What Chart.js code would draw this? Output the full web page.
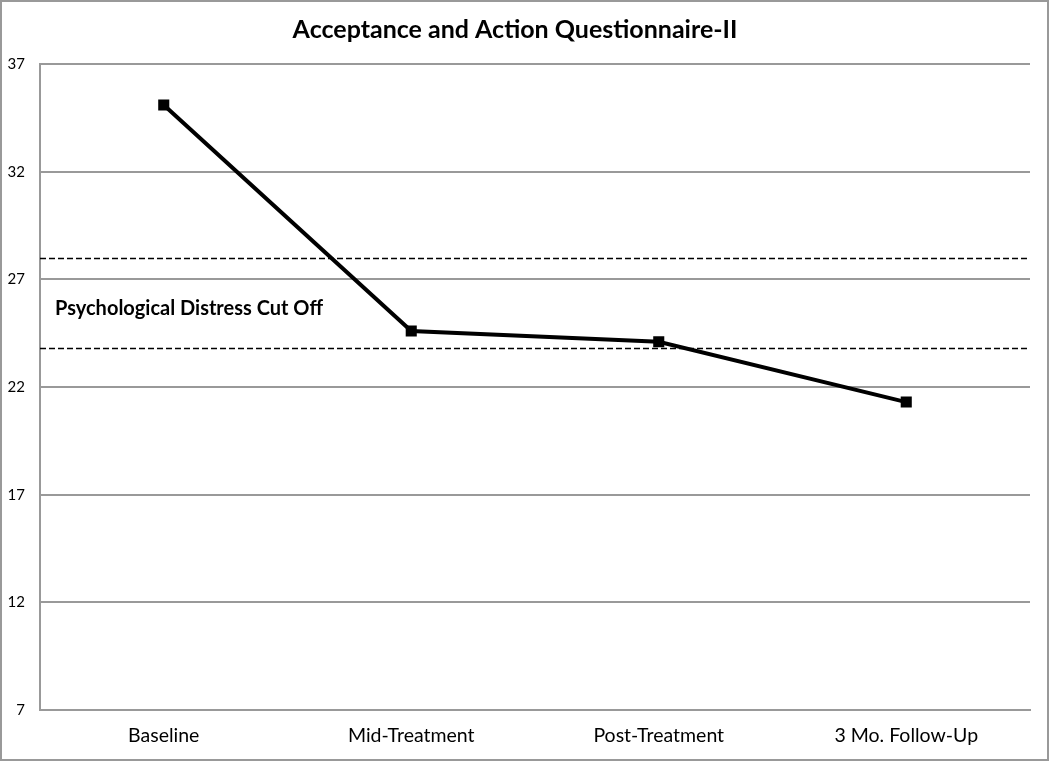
<!DOCTYPE html>
<html>
<head>
<meta charset="utf-8">
<script src="https://cdn.jsdelivr.net/npm/chart.js@4/dist/chart.umd.min.js"></script>
<style>
html,body{margin:0;padding:0;background:#fff;}
#wrap{width:1050px;height:762px;position:relative;}
</style>
</head>
<body>
<div id="wrap"><canvas id="c" width="1050" height="762"></canvas></div>
<script>
const categories = ["Baseline", "Mid-Treatment", "Post-Treatment", "3 Mo. Follow-Up"];
const aaqValues = [35.1, 24.6, 24.1, 21.3];
const cutoffLines = [28, 23.8];
const cutoffLabel = "Psychological Distress Cut Off";
const yMin = 7, yMax = 37, yStep = 5;
const titleText = "Acceptance and Action Questionnaire-II";
const FONT = "Lato, 'Open Sans', sans-serif";

const overlay = {
  id: 'overlay',
  afterDatasetsDraw(chart) {
    const {ctx, chartArea: a, scales: {y}} = chart;
    ctx.save();
    ctx.strokeStyle = '#000';
    ctx.lineWidth = 1.6;
    ctx.setLineDash([6, 3]);
    cutoffLines.forEach(v => {
      const py = Math.round(y.getPixelForValue(v)) + 0.5;
      ctx.beginPath();
      ctx.moveTo(a.left, py);
      ctx.lineTo(a.right, py);
      ctx.stroke();
    });
    ctx.setLineDash([]);
    ctx.fillStyle = '#000';
    ctx.font = "bold 20px " + FONT;
    ctx.textBaseline = 'middle';
    ctx.textAlign = 'left';
    const ty = y.getPixelForValue((cutoffLines[0] + cutoffLines[1]) / 2) + 6;
    ctx.fillText(cutoffLabel, a.left + 15, ty);
    ctx.restore();
  },
  afterDraw(chart) {
    const ctx = chart.ctx;
    ctx.save();
    ctx.strokeStyle = '#999';
    ctx.lineWidth = 2;
    ctx.strokeRect(1, 1, chart.width - 3, chart.height - 3);
    ctx.restore();
  }
};

new Chart(document.getElementById('c'), {
  type: 'line',
  data: {
    labels: categories,
    datasets: [{
      data: aaqValues,
      borderColor: '#000',
      backgroundColor: '#000',
      borderWidth: 4,
      pointStyle: 'rect',
      pointRadius: 5,
      pointHoverRadius: 5,
      tension: 0,
      fill: false
    }]
  },
  options: {
    responsive: false,
    animation: false,
    devicePixelRatio: 1,
    layout: {padding: {left: 0, right: 20, top: 0, bottom: 0}},
    plugins: {
      legend: {display: false},
      tooltip: {enabled: false},
      title: {
        display: true,
        text: titleText,
        color: '#000',
        font: {family: FONT, size: 25, weight: 'bold'},
        padding: {top: 15, bottom: 19}
      }
    },
    scales: {
      x: {
        offset: true,
        grid: {display: false, drawTicks: false},
        border: {display: true, color: '#999', width: 2},
        ticks: {color: '#000', font: {family: FONT, size: 19.5}, padding: 14},
        afterFit(s) { s.height = 52; }
      },
      y: {
        min: yMin, max: yMax,
        grid: {color: '#999', lineWidth: 2, drawTicks: false},
        border: {display: true, color: '#999', width: 2},
        ticks: {stepSize: yStep, color: '#000', font: {family: FONT, size: 15}, padding: 15},
        afterFit(s) { s.width = 40; }
      }
    }
  },
  plugins: [overlay]
});
</script>
</body>
</html>
